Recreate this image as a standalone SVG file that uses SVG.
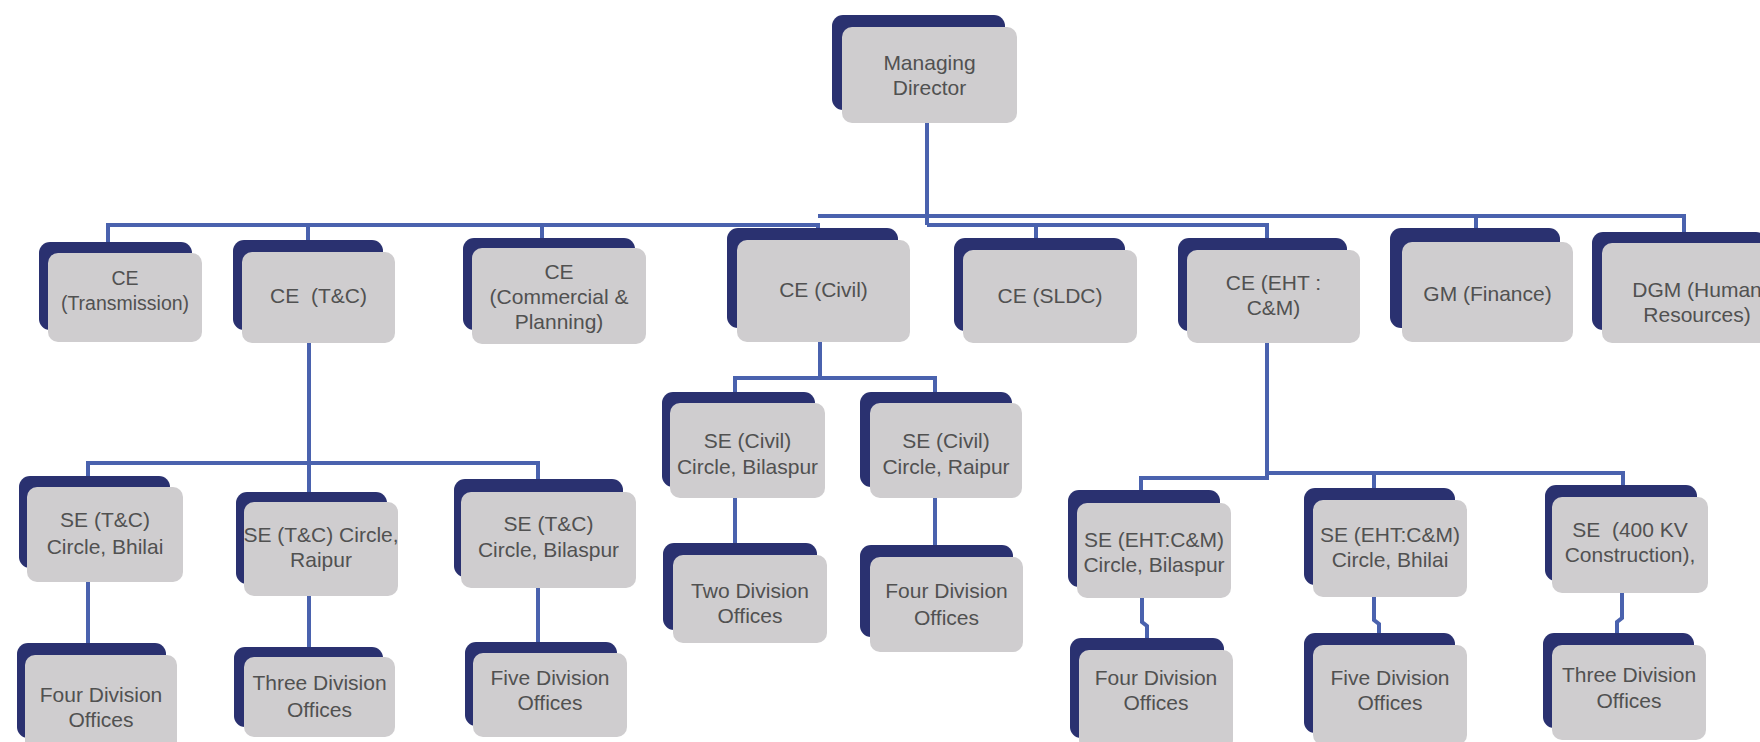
<svg xmlns="http://www.w3.org/2000/svg" width="1760" height="742" viewBox="0 0 1760 742">
<style>
.bk{fill:#2a3170}
.fr{fill:#cfcdcf}
.t{font-family:"Liberation Sans",Arial,sans-serif;font-size:21px;fill:#515151;text-anchor:middle}
.s{font-size:19.5px}
.c{fill:none;stroke:#4a62ae;stroke-width:4}
</style>
<rect width="1760" height="742" fill="#ffffff"/>
<g id="connectors">
<path class="c" d="M927,123 V225"/>
<path class="c" d="M818,216 H1684 V232"/>
<path class="c" d="M1476,216 V228"/>
<path class="c" d="M108,242 V225 H818 V228"/>
<path class="c" d="M927,225 H1267 V238"/>
<path class="c" d="M1036,225 V238"/>
<path class="c" d="M308,225 V240"/>
<path class="c" d="M542,225 V238"/>
<path class="c" d="M309,343 V492"/>
<path class="c" d="M88,476 V463 H538 V479"/>
<path class="c" d="M820,342 V378"/>
<path class="c" d="M735,392 V378 H935 V392"/>
<path class="c" d="M88,582 V643"/>
<path class="c" d="M309,596 V647"/>
<path class="c" d="M538,588 V642"/>
<path class="c" d="M735,498 V543"/>
<path class="c" d="M935,498 V545"/>
<path class="c" d="M1267,343 V475"/>
<path class="c" d="M1141,490 V478 H1267 V473 H1623 V485"/>
<path class="c" d="M1374,473 V488"/>
<path class="c" d="M1142,598 V622 L1147,626 V638"/>
<path class="c" d="M1374,597 V620 L1379,624 V633"/>
<path class="c" d="M1622,593 V618 L1617,622 V633"/>
</g>
<g id="md"><rect class="bk" x="832" y="15" width="173" height="95" rx="11"/><rect class="fr" x="842" y="27" width="175" height="96" rx="10"/><text class="t" x="929.5" y="70">Managing</text><text class="t" x="929.5" y="95">Director</text></g>
<g id="ce-transmission"><rect class="bk" x="39" y="242" width="153" height="88" rx="11"/><rect class="fr" x="48" y="253" width="154" height="89" rx="10"/><text class="t s" x="125" y="285">CE</text><text class="t s" x="125" y="310">(Transmission)</text></g>
<g id="ce-tc"><rect class="bk" x="233" y="240" width="150" height="90" rx="11"/><rect class="fr" x="242" y="252" width="153" height="91" rx="10"/><text class="t" x="318.5" y="303" xml:space="preserve">CE  (T&amp;C)</text></g>
<g id="ce-commercial"><rect class="bk" x="463" y="238" width="172" height="92" rx="11"/><rect class="fr" x="472" y="248" width="174" height="96" rx="10"/><text class="t" x="559" y="279">CE</text><text class="t" x="559" y="304">(Commercial &amp;</text><text class="t" x="559" y="329">Planning)</text></g>
<g id="ce-civil"><rect class="bk" x="727" y="228" width="171" height="100" rx="11"/><rect class="fr" x="737" y="240" width="173" height="102" rx="10"/><text class="t" x="823.5" y="297">CE (Civil)</text></g>
<g id="ce-sldc"><rect class="bk" x="954" y="238" width="171" height="93" rx="11"/><rect class="fr" x="963" y="250" width="174" height="93" rx="10"/><text class="t" x="1050" y="303">CE (SLDC)</text></g>
<g id="ce-eht"><rect class="bk" x="1178" y="238" width="169" height="93" rx="11"/><rect class="fr" x="1187" y="250" width="173" height="93" rx="10"/><text class="t" x="1273.5" y="290">CE (EHT :</text><text class="t" x="1273.5" y="315">C&amp;M)</text></g>
<g id="gm-finance"><rect class="bk" x="1390" y="228" width="170" height="100" rx="11"/><rect class="fr" x="1402" y="242" width="171" height="100" rx="10"/><text class="t" x="1487.5" y="301">GM (Finance)</text></g>
<g id="dgm-hr"><rect class="bk" x="1592" y="232" width="175" height="98" rx="11"/><rect class="fr" x="1602" y="243" width="178" height="100" rx="10"/><text class="t" x="1697" y="297">DGM (Human</text><text class="t" x="1697" y="322">Resources)</text></g>
<g id="se-tc-bhilai"><rect class="bk" x="19" y="476" width="151" height="92" rx="11"/><rect class="fr" x="27" y="487" width="156" height="95" rx="10"/><text class="t" x="105" y="527">SE (T&amp;C)</text><text class="t" x="105" y="554">Circle, Bhilai</text></g>
<g id="se-tc-raipur"><rect class="bk" x="236" y="492" width="151" height="92" rx="11"/><rect class="fr" x="244" y="502" width="154" height="94" rx="10"/><text class="t" x="321" y="542">SE (T&amp;C) Circle,</text><text class="t" x="321" y="567">Raipur</text></g>
<g id="se-tc-bilaspur"><rect class="bk" x="454" y="479" width="169" height="98" rx="11"/><rect class="fr" x="461" y="492" width="175" height="96" rx="10"/><text class="t" x="548.5" y="531">SE (T&amp;C)</text><text class="t" x="548.5" y="557">Circle, Bilaspur</text></g>
<g id="se-civil-bilaspur"><rect class="bk" x="662" y="392" width="153" height="95" rx="11"/><rect class="fr" x="670" y="403" width="155" height="95" rx="10"/><text class="t" x="747.5" y="448">SE (Civil)</text><text class="t" x="747.5" y="474">Circle, Bilaspur</text></g>
<g id="se-civil-raipur"><rect class="bk" x="860" y="392" width="152" height="95" rx="11"/><rect class="fr" x="870" y="403" width="152" height="95" rx="10"/><text class="t" x="946" y="448">SE (Civil)</text><text class="t" x="946" y="474">Circle, Raipur</text></g>
<g id="se-eht-bilaspur"><rect class="bk" x="1068" y="490" width="152" height="97" rx="11"/><rect class="fr" x="1077" y="503" width="154" height="95" rx="10"/><text class="t" x="1154" y="547">SE (EHT:C&amp;M)</text><text class="t" x="1154" y="572">Circle, Bilaspur</text></g>
<g id="se-eht-bhilai"><rect class="bk" x="1304" y="488" width="151" height="97" rx="11"/><rect class="fr" x="1313" y="500" width="154" height="97" rx="10"/><text class="t" x="1390" y="542">SE (EHT:C&amp;M)</text><text class="t" x="1390" y="567">Circle, Bhilai</text></g>
<g id="se-400kv"><rect class="bk" x="1545" y="485" width="152" height="96" rx="11"/><rect class="fr" x="1552" y="497" width="156" height="96" rx="10"/><text class="t" x="1630" y="537" xml:space="preserve">SE  (400 KV</text><text class="t" x="1630" y="562">Construction),</text></g>
<g id="div-four-tc"><rect class="bk" x="17" y="643" width="149" height="95" rx="11"/><rect class="fr" x="25" y="655" width="152" height="100" rx="10"/><text class="t" x="101" y="702">Four Division</text><text class="t" x="101" y="727">Offices</text></g>
<g id="div-three-tc"><rect class="bk" x="234" y="647" width="149" height="80" rx="11"/><rect class="fr" x="244" y="657" width="151" height="80" rx="10"/><text class="t" x="319.5" y="690">Three Division</text><text class="t" x="319.5" y="717">Offices</text></g>
<g id="div-five-tc"><rect class="bk" x="465" y="642" width="152" height="84" rx="11"/><rect class="fr" x="473" y="653" width="154" height="84" rx="10"/><text class="t" x="550" y="685">Five Division</text><text class="t" x="550" y="710">Offices</text></g>
<g id="div-two-civil"><rect class="bk" x="663" y="543" width="154" height="87" rx="11"/><rect class="fr" x="673" y="555" width="154" height="88" rx="10"/><text class="t" x="750" y="598">Two Division</text><text class="t" x="750" y="623">Offices</text></g>
<g id="div-four-civil"><rect class="bk" x="860" y="545" width="153" height="92" rx="11"/><rect class="fr" x="870" y="557" width="153" height="95" rx="10"/><text class="t" x="946.5" y="598">Four Division</text><text class="t" x="946.5" y="625">Offices</text></g>
<g id="div-four-eht"><rect class="bk" x="1070" y="638" width="154" height="100" rx="11"/><rect class="fr" x="1079" y="650" width="154" height="100" rx="10"/><text class="t" x="1156" y="685">Four Division</text><text class="t" x="1156" y="710">Offices</text></g>
<g id="div-five-eht"><rect class="bk" x="1304" y="633" width="151" height="100" rx="11"/><rect class="fr" x="1313" y="645" width="154" height="100" rx="10"/><text class="t" x="1390" y="685">Five Division</text><text class="t" x="1390" y="710">Offices</text></g>
<g id="div-three-eht"><rect class="bk" x="1543" y="633" width="151" height="95" rx="11"/><rect class="fr" x="1552" y="645" width="154" height="95" rx="10"/><text class="t" x="1629" y="682">Three Division</text><text class="t" x="1629" y="708">Offices</text></g>
</svg>
